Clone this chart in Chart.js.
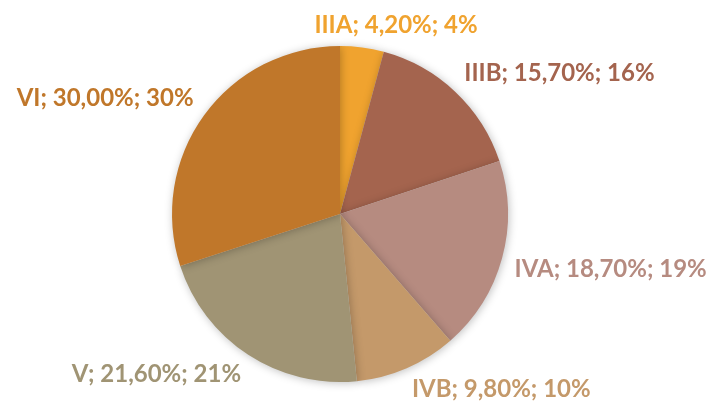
<!DOCTYPE html>
<html>
<head>
<meta charset="utf-8">
<script src="https://cdn.jsdelivr.net/npm/chart.js@4"></script>
<style>
  html, body { margin: 0; padding: 0; background: #fff; }
  #wrap { width: 713px; height: 406px; position: relative; }
</style>
</head>
<body>
<div id="wrap"><canvas id="pieChart"></canvas></div>
<script>
// 카테고리와 값
const stages = ['IIIA', 'IIIB', 'IVA', 'IVB', 'V', 'VI'];
const percents = [4.2, 15.7, 18.7, 9.8, 21.6, 30.0];
const rounded = ['4%', '16%', '19%', '10%', '21%', '30%'];
const colors = ['#F0A32F', '#A4644E', '#B68B80', '#C4996A', '#A09474', '#C0772A'];

// 라벨 (Excel식 "이름; 값; 퍼센트")
const labelText = stages.map((s, i) =>
  s + '; ' + percents[i].toFixed(2).replace('.', ',') + '%; ' + rounded[i]);

// 조각 그림자
const shadowPlugin = {
  id: 'shadow',
  beforeDatasetDraw(chart) {
    const ctx = chart.ctx;
    ctx.save();
    ctx.shadowColor = 'rgba(0,0,0,0.25)';
    ctx.shadowBlur = 8;
    ctx.shadowOffsetX = 1;
    ctx.shadowOffsetY = 1;
  },
  afterDatasetDraw(chart) {
    chart.ctx.restore();
  }
};

const clamp = v => Math.max(-1, Math.min(1, v));

// 바깥쪽 라벨
const outsideLabels = {
  id: 'outsideLabels',
  afterDatasetsDraw(chart) {
    const ctx = chart.ctx;
    const arcs = chart.getDatasetMeta(0).data;
    ctx.save();
    ctx.font = 'bold 24px Lato';
    ctx.textAlign = 'center';
    ctx.textBaseline = 'middle';
    arcs.forEach((arc, i) => {
      const mid = (arc.startAngle + arc.endAngle) / 2;
      const dx = Math.cos(mid), dy = Math.sin(mid);
      const r = arc.outerRadius + 13;
      const w = ctx.measureText(labelText[i]).width;
      const h = 18;
      // 앵커에서 바깥쪽으로 텍스트 박스를 밀어냄
      const x = arc.x + dx * r + (w / 2) * clamp(dx * 3);
      const y = arc.y + dy * r + (h / 2) * clamp(dy * 3);
      ctx.fillStyle = colors[i];
      ctx.fillText(labelText[i], x, y);
    });
    ctx.restore();
  }
};

const ctxPie = document.getElementById('pieChart');
const pieChart = new Chart(ctxPie, {
  type: 'pie',
  data: {
    labels: stages,
    datasets: [{
      data: percents,
      backgroundColor: colors,
      borderWidth: 0
    }]
  },
  options: {
    responsive: true,
    maintainAspectRatio: false,
    animation: false,
    layout: { padding: { left: 0, right: 33, top: 46, bottom: 24 } },
    plugins: {
      legend: { display: false },
      tooltip: { enabled: false }
    }
  },
  plugins: [shadowPlugin, outsideLabels]
});
</script>
</body>
</html>
